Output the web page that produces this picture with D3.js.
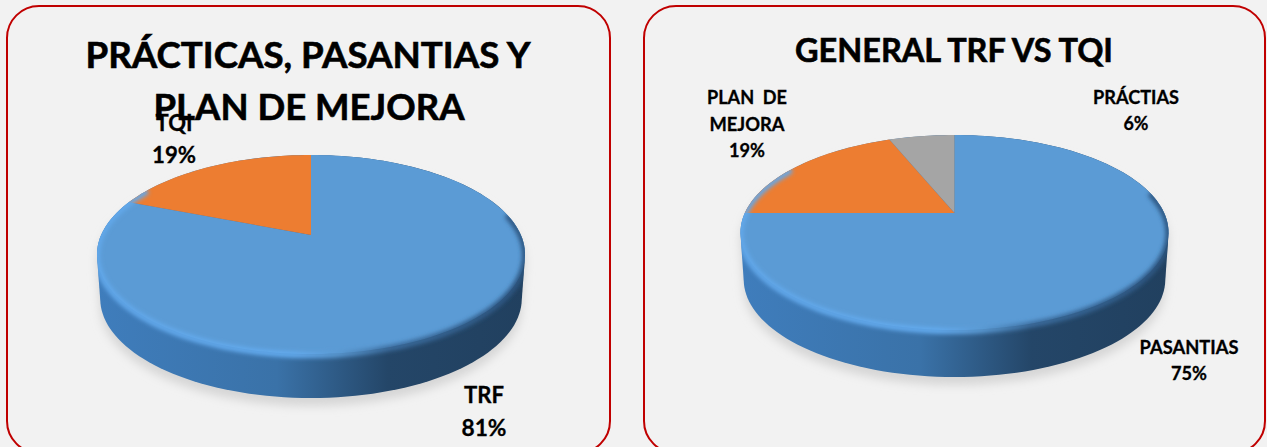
<!DOCTYPE html>
<html>
<head>
<meta charset="utf-8">
<script src="https://cdnjs.cloudflare.com/ajax/libs/d3/7.8.5/d3.min.js"></script>
<style>
  body { margin: 0; background: #f2f2f2; overflow: hidden; }
  svg { display: block; }
  text { font-family: Lato, sans-serif; font-weight: 700; fill: #000; stroke: #000; text-anchor: middle; }
</style>
</head>
<body>
<div id="chart"></div>
<script>
// values
var leftCategories = ["TRF", "TQI"];
var leftValues = [81, 19];
var rightCategories = ["PASANTIAS", "PLAN DE MEJORA", "PRÁCTIAS"];
var rightValues = [75, 19, 6];
var sliceColors = ["#5b9bd5", "#ed7d31", "#a5a5a5"];

var width = 1267, height = 447;

var svg = d3.select("#chart").append("svg")
  .attr("width", width)
  .attr("height", height);

var defs = svg.append("defs");

defs.append("filter").attr("id", "shadowBlur")
  .attr("x", "-10%").attr("y", "-10%").attr("width", "120%").attr("height", "120%")
  .append("feGaussianBlur").attr("stdDeviation", 5);
defs.append("filter").attr("id", "rimBlur")
  .attr("x", "-5%").attr("y", "-5%").attr("width", "110%").attr("height", "110%")
  .append("feGaussianBlur").attr("stdDeviation", 2);

var sideGrad = defs.append("linearGradient").attr("id", "sideGrad");
sideGrad.append("stop").attr("offset", "0%").attr("stop-color", "#3f7dbc");
sideGrad.append("stop").attr("offset", "42%").attr("stop-color", "#3a72a8");
sideGrad.append("stop").attr("offset", "68%").attr("stop-color", "#244668");
sideGrad.append("stop").attr("offset", "100%").attr("stop-color", "#21405f");

var rimGrad = defs.append("linearGradient").attr("id", "rimGrad");
rimGrad.append("stop").attr("offset", "0%").attr("stop-color", "#62a8ea");
rimGrad.append("stop").attr("offset", "46%").attr("stop-color", "#64acf0");
rimGrad.append("stop").attr("offset", "56%").attr("stop-color", "#5b9bd5");
rimGrad.append("stop").attr("offset", "68%").attr("stop-color", "#3c6d9e");
rimGrad.append("stop").attr("offset", "100%").attr("stop-color", "#2c5580");

// panels: box, pie placement and label layout, one entry per chart
var panels = [
  {
    categories: leftCategories, values: leftValues,
    box: [7, 6, 603, 447],
    cx: 311, apexY: 235, topY: 155, bottomY: 354, halfW: 214, depth: 44,
    titleLines: [
      {text: "PRÁCTICAS, PASANTIAS Y", x: 308, y: 68, len: 445},
      {text: "PLAN DE MEJORA", x: 309, y: 120, len: 311}
    ],
    titleSize: 37,
    labelSize: 23,
    labels: [
      {t: "TRF", x: 484, y: 403, len: 40},
      {t: "81%", x: 484, y: 436, len: 45},
      {t: "TQI", x: 174, y: 131, len: 37},
      {t: "19%", x: 174, y: 163, len: 44}
    ]
  },
  {
    categories: rightCategories, values: rightValues,
    box: [644, 6, 621, 447],
    cx: 954.5, apexY: 213, topY: 135, bottomY: 330, halfW: 214, depth: 47,
    titleLines: [{text: "GENERAL TRF VS TQI", x: 954, y: 62, len: 318}],
    titleSize: 32,
    labelSize: 18.5,
    labels: [
      {t: "PASANTIAS", x: 1189, y: 354, len: 99},
      {t: "75%", x: 1189, y: 380, len: 36},
      {t: "PLAN  DE", x: 747, y: 104, len: 80},
      {t: "MEJORA", x: 747, y: 131, len: 75},
      {t: "19%", x: 747, y: 157, len: 36},
      {t: "PRÁCTIAS", x: 1136, y: 104, len: 86},
      {t: "6%", x: 1136, y: 130, len: 25}
    ]
  }
];

var pie = d3.pie().sort(null);
var line = d3.line();

panels.forEach(function(p, pi) {
  var g = svg.append("g");

  g.append("rect")
    .attr("x", p.box[0]).attr("y", p.box[1])
    .attr("width", p.box[2]).attr("height", p.box[3])
    .attr("rx", 32).attr("ry", 32)
    .attr("fill", "#f2f2f2")
    .attr("stroke", "#c00000")
    .attr("stroke-width", 2);

  // the tilted disc is a circle seen in perspective, so the apex sits above the ellipse middle
  var up = p.apexY - p.topY, down = p.bottomY - p.apexY;
  var persp = (down - up) / (down + up);
  var B = up * (1 + persp);
  var A = p.halfW * Math.sqrt(1 - persp * persp);

  function project(angle) {
    var u = Math.sin(angle), v = -Math.cos(angle);
    var w = 1 - persp * v;
    return [p.cx + A * u / w, p.apexY + B * v / w];
  }

  var rimAngles = d3.range(0, 2 * Math.PI, Math.PI / 90);
  var outline = rimAngles.map(project);
  var lowered = outline.map(function(d) {
    return [p.cx + (d[0] - p.cx) * 0.985, d[1] + p.depth];
  });
  var hull = d3.polygonHull(outline.concat(lowered));

  defs.append("clipPath").attr("id", "hullClip" + pi)
    .append("path").attr("d", line(hull) + "Z");

  // ground shadow
  g.append("path")
    .attr("d", line(hull.map(function(d) { return [d[0], d[1] + 8]; })) + "Z")
    .attr("fill", "#d6d6d6")
    .attr("filter", "url(#shadowBlur)");

  // side wall
  g.append("path")
    .attr("d", line(hull) + "Z")
    .attr("fill", "url(#sideGrad)");

  // top face slices
  pie(p.values).forEach(function(s, i) {
    var n = Math.max(2, Math.ceil((s.endAngle - s.startAngle) / (Math.PI / 90)));
    var pts = [[p.cx, p.apexY]];
    d3.range(n + 1).forEach(function(k) {
      pts.push(project(s.startAngle + (s.endAngle - s.startAngle) * k / n));
    });
    g.append("path")
      .attr("d", line(pts) + "Z")
      .attr("fill", sliceColors[i]);
  });

  // bevel along the front of the rim, open at the back of the disc
  var bevel = d3.range(78, 301, 2).map(function(deg) {
    var q = project(deg * Math.PI / 180);
    return [q[0], q[1] + 1];
  });
  g.append("g")
    .attr("clip-path", "url(#hullClip" + pi + ")")
    .append("path")
    .attr("d", line(bevel))
    .attr("fill", "none")
    .attr("stroke", "url(#rimGrad)")
    .attr("stroke-width", 6)
    .attr("stroke-linecap", "round")
    .attr("filter", "url(#rimBlur)");

  // labels first, title on top, as they collide in the original
  p.labels.forEach(function(t) {
    g.append("text")
      .attr("x", t.x).attr("y", t.y)
      .attr("font-size", p.labelSize)
      .attr("stroke-width", 0.3)
      .attr("textLength", t.len)
      .attr("lengthAdjust", "spacingAndGlyphs")
      .style("white-space", "pre")
      .text(t.t);
  });

  p.titleLines.forEach(function(t) {
    g.append("text")
      .attr("x", t.x).attr("y", t.y)
      .attr("font-size", p.titleSize)
      .attr("stroke-width", 0.6)
      .attr("textLength", t.len)
      .attr("lengthAdjust", "spacingAndGlyphs")
      .text(t.text);
  });
});
</script>
</body>
</html>
